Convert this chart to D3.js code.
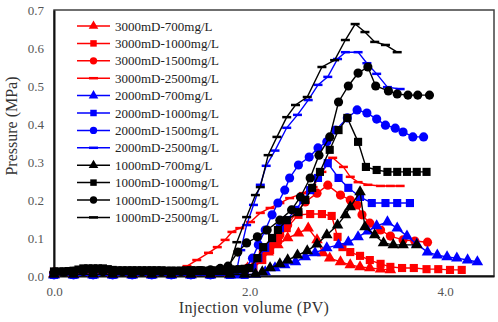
<!DOCTYPE html>
<html>
<head>
<meta charset="utf-8">
<script src="https://cdn.jsdelivr.net/npm/d3@7"></script>
<style>
  body { margin: 0; background: #fff; }
  text { font-family: "Liberation Serif", "Times New Roman", serif; }
</style>
</head>
<body>
<div id="chart"></div>
<script>
// series names (legend order)
const seriesNames = [
    "3000mD-700mg/L", "3000mD-1000mg/L", "3000mD-1500mg/L", "3000mD-2500mg/L",
    "2000mD-700mg/L", "2000mD-1000mg/L", "2000mD-1500mg/L", "2000mD-2500mg/L",
    "1000mD-700mg/L", "1000mD-1000mg/L", "1000mD-1500mg/L", "1000mD-2500mg/L"
];
const seriesColors = ["red", "red", "red", "red", "blue", "blue", "blue", "blue", "black", "black", "black", "black"];
const seriesMarkers = ["triangle", "square", "circle", "dash", "triangle", "square", "circle", "dash", "triangle", "square", "circle", "dash"];

const xTicks = [0, 2, 4];
const yTicks = [0, 0.1, 0.2, 0.3, 0.4, 0.5, 0.6, 0.7];

// [injection volume PV, pressure MPa]
const s3000_700 = [[0,.006],[.2,.006],[.4,.007],[.6,.006],[.8,.006],[1.0,.006],[1.2,.006],[1.4,.006],[1.6,.006],[1.8,.006],
    [1.9,.005],[1.98,.021],[2.09,.042],[2.19,.063],[2.29,.082],[2.39,.1],[2.5,.113],[2.6,.126],[2.69,.095],[2.75,.061],
    [2.82,.047],[2.93,.037],[3.03,.029],[3.13,.024],[3.23,.021],[3.34,.018],[3.44,.016]];
const s3000_1000 = [[0,.008],[.2,.008],[.4,.009],[.6,.008],[.8,.008],[1.0,.008],[1.2,.008],[1.4,.008],[1.6,.008],[1.8,.008],
    [1.95,.006],[2.04,.021],[2.13,.042],[2.21,.068],[2.29,.095],[2.38,.126],[2.5,.161],[2.62,.163],[2.74,.163],[2.84,.158],
    [2.9,.103],[2.95,.076],[3.03,.063],[3.13,.053],[3.23,.042],[3.34,.032],[3.44,.024],[3.56,.021],[3.68,.021],[3.81,.018],
    [3.93,.018],[4.05,.016],[4.17,.016]];
const s3000_1500 = [[0,.008],[.2,.008],[.4,.009],[.6,.008],[.8,.008],[1.0,.008],[1.2,.009],[1.4,.009],[1.6,.009],[1.8,.009],
    [1.9,.01],[1.98,.021],[2.06,.042],[2.14,.063],[2.23,.087],[2.31,.108],[2.39,.134],[2.48,.168],[2.57,.195],[2.69,.218],
    [2.8,.239],[2.93,.213],[3.03,.2],[3.1,.187],[3.15,.161],[3.23,.139],[3.34,.121],[3.44,.105],[3.57,.095],[3.69,.092],[3.82,.089]];
const s3000_2500 = [[0,.008],[.2,.008],[.4,.009],[.6,.009],[.8,.009],[1.0,.009],[1.15,.01],[1.25,.013],[1.36,.026],[1.46,.042],
    [1.58,.061],[1.67,.076],[1.75,.095],[1.82,.116],[1.9,.126],[2.01,.142],[2.11,.166],[2.21,.179],[2.31,.192],[2.41,.205],
    [2.55,.218],[2.65,.234],[2.74,.274],[2.85,.311],[2.96,.287],[3.03,.261],[3.11,.247],[3.21,.24],[3.34,.237],[3.44,.237],[3.54,.237]];

const s2000_700 = [[0,.002],[.2,.002],[.4,.002],[.6,.002],[.8,.002],[1.0,.002],[1.2,.002],[1.4,.002],[1.6,.002],[1.8,.002],
    [1.9,.002],[2.06,.005],[2.16,.011],[2.26,.021],[2.36,.029],[2.47,.037],[2.57,.05],[2.67,.061],[2.79,.074],[2.91,.082],
    [3.01,.089],[3.11,.103],[3.21,.118],[3.3,.132],[3.41,.142],[3.51,.126],[3.61,.105],[3.71,.084],[3.82,.063],[3.92,.055],
    [4.02,.05],[4.12,.047],[4.23,.042],[4.33,.037]];
const s2000_1000 = [[0,.003],[.2,.003],[.4,.003],[.6,.003],[.8,.003],[1.0,.003],[1.2,.003],[1.4,.003],[1.6,.003],[1.8,.003],
    [1.95,.003],[2.03,.021],[2.09,.047],[2.16,.074],[2.23,.1],[2.31,.126],[2.38,.147],[2.47,.174],[2.55,.2],[2.62,.226],
    [2.7,.258],[2.8,.297],[2.91,.258],[3.01,.232],[3.13,.208],[3.25,.192],[3.39,.192],[3.51,.192],[3.64,.192]];
const s2000_1500 = [[0,.003],[.2,.003],[.4,.003],[.6,.003],[.8,.003],[1.0,.003],[1.2,.003],[1.4,.003],[1.6,.003],[1.8,.004],
    [1.95,.016],[2.03,.047],[2.09,.082],[2.16,.121],[2.23,.161],[2.29,.192],[2.36,.226],[2.41,.258],[2.5,.292],[2.61,.313],
    [2.7,.337],[2.79,.353],[2.88,.384],[3.0,.416],[3.1,.437],[3.2,.429],[3.3,.413],[3.39,.397],[3.49,.389],[3.57,.379],
    [3.67,.366],[3.78,.366]];
const s2000_2500 = [[0,.004],[.2,.004],[.4,.004],[.6,.004],[.8,.004],[1.0,.004],[1.2,.004],[1.4,.004],[1.6,.004],[1.8,.004],
    [1.86,.004],[1.91,.068],[1.97,.134],[2.04,.187],[2.11,.24],[2.17,.29],[2.26,.33],[2.38,.39],[2.49,.424],[2.6,.463],
    [2.7,.503],[2.8,.524],[2.9,.571],[2.98,.589],[3.11,.589],[3.2,.56],[3.3,.532],[3.41,.497],[3.54,.492]];

const s1000_700 = [[0,.004],[.2,.004],[.4,.005],[.6,.004],[.8,.004],[1.0,.004],[1.2,.004],[1.4,.004],[1.6,.004],[1.8,.004],
    [1.95,.004],[2.06,.005],[2.13,.011],[2.21,.021],[2.31,.032],[2.39,.042],[2.49,.055],[2.59,.066],[2.69,.084],[2.79,.108],
    [2.9,.134],[2.98,.161],[3.03,.182],[3.13,.221],[3.18,.129],[3.28,.108],[3.37,.087],[3.47,.082],[3.57,.082],[3.71,.082]];
const s1000_1000 = [[0,.012],[.05,.012],[.1,.012],[.15,.013],[.2,.014],[.25,.017],[.3,.02],[.35,.02],[.4,.02],[.45,.02],[.5,.02],
    [.55,.018],[.6,.016],[.65,.015],[.7,.015],[.75,.015],[.8,.015],[.85,.015],[.9,.015],[.95,.015],[1.0,.015],[1.05,.015],
    [1.1,.015],[1.15,.014],[1.2,.014],[1.25,.014],[1.3,.014],[1.35,.015],[1.4,.015],[1.45,.015],[1.5,.015],[1.55,.014],
    [1.6,.014],[1.65,.015],[1.7,.016],[1.75,.016],[1.8,.017],[1.85,.017],[1.9,.018],[1.95,.019],
    [2.0,.021],[2.08,.047],[2.14,.076],[2.23,.1],[2.29,.121],[2.38,.147],[2.5,.168],[2.57,.2],[2.64,.232],[2.72,.274],
    [2.82,.332],[2.91,.384],[3.0,.416],[3.11,.353],[3.19,.287],[3.3,.279],[3.41,.274],[3.51,.274],[3.61,.274],[3.71,.274],[3.81,.274]];
const s1000_1500 = [[0,.01],[.1,.01],[.2,.012],[.3,.012],[.4,.012],[.5,.011],[.6,.012],[.7,.011],[.8,.012],[.9,.011],[1.0,.012],
    [1.1,.011],[1.2,.012],[1.3,.012],[1.4,.013],[1.5,.014],[1.6,.016],[1.7,.02],[1.78,.026],[1.88,.063],[1.97,.087],[2.08,.103],
    [2.18,.121],[2.31,.147],[2.43,.174],[2.52,.208],[2.62,.258],[2.71,.318],[2.82,.366],[2.91,.458],[3.01,.5],[3.11,.534],
    [3.21,.55],[3.29,.5],[3.42,.487],[3.51,.479],[3.62,.476],[3.72,.476],[3.84,.476]];
const s1000_2500 = [[0,.01],[.2,.01],[.4,.011],[.6,.011],[.8,.011],[1.0,.011],[1.2,.011],[1.4,.011],[1.6,.011],[1.78,.012],
    [1.87,.089],[1.97,.155],[2.06,.213],[2.11,.234],[2.19,.318],[2.28,.366],[2.38,.418],[2.47,.45],[2.59,.471],[2.74,.55],
    [2.87,.568],[2.98,.621],[3.08,.663],[3.18,.642],[3.28,.616],[3.39,.608],[3.51,.589]];

const seriesData = [s3000_700, s3000_1000, s3000_1500, s3000_2500,
    s2000_700, s2000_1000, s2000_1500, s2000_2500,
    s1000_700, s1000_1000, s1000_1500, s1000_2500];

const width = 498, height = 322;
const margin = { top: 10, right: 4, bottom: 46, left: 54 };

const svg = d3.select("#chart").append("svg")
    .attr("width", width)
    .attr("height", height);

const x = d3.scaleLinear().domain([0, 4.5]).range([margin.left, width - margin.right]);
const y = d3.scaleLinear().domain([0, 0.7]).range([height - margin.bottom, margin.top]);

// frame
svg.append("rect")
    .attr("x", margin.left).attr("y", margin.top)
    .attr("width", width - margin.left - margin.right)
    .attr("height", height - margin.top - margin.bottom)
    .attr("fill", "none").attr("stroke", "#404040").attr("stroke-width", 1.5);

// axes (no tick marks, just labels)
const xAxis = svg.append("g")
    .attr("transform", `translate(0,${height - margin.bottom})`)
    .call(d3.axisBottom(x).tickValues(xTicks).tickSize(0).tickPadding(11).tickFormat(d3.format(".1f")));
const yAxis = svg.append("g")
    .attr("transform", `translate(${margin.left},0)`)
    .call(d3.axisLeft(y).tickValues(yTicks).tickSize(0).tickPadding(10).tickFormat(d3.format(".1f")));
[xAxis, yAxis].forEach(g => {
    g.select(".domain").attr("stroke", "#111").attr("stroke-width", 2);
    g.selectAll("text").style("font-family", "Liberation Serif, serif").style("font-size", "13px").attr("fill", "#555");
});

function drawMarker(g, type, color, size) {
    if (type === "dash") {
        g.append("line").attr("x1", -4.5).attr("x2", 4.5).attr("y1", 0).attr("y2", 0)
            .attr("stroke", color).attr("stroke-width", 2.5);
        return;
    }
    const sym = type === "triangle" ? d3.symbolTriangle : type === "square" ? d3.symbolSquare : d3.symbolCircle;
    g.append("path").attr("d", d3.symbol().type(sym).size(size)()).attr("fill", color);
}

const line = d3.line().x(d => x(d[0])).y(d => y(d[1]));

// draw red first, black on top
seriesData.forEach((data, i) => {
    const color = seriesColors[i];
    svg.append("path")
        .datum(data)
        .attr("d", line)
        .attr("fill", "none")
        .attr("stroke", color)
        .attr("stroke-width", 1.4);
    svg.append("g").selectAll("g")
        .data(data)
        .enter().append("g")
        .attr("transform", d => `translate(${x(d[0])},${y(d[1])})`)
        .each(function() { drawMarker(d3.select(this), seriesMarkers[i], color, seriesMarkers[i] === "triangle" ? 58 : 66); });
});

// legend
const legend = svg.append("g").attr("transform", "translate(77,26)");
seriesNames.forEach((name, i) => {
    const row = legend.append("g").attr("transform", `translate(0,${i * 17.4})`);
    row.append("line").attr("x1", 0).attr("x2", 33).attr("y1", 0).attr("y2", 0)
        .attr("stroke", seriesColors[i]).attr("stroke-width", 1.5);
    const m = row.append("g").attr("transform", "translate(16.5,0)");
    drawMarker(m, seriesMarkers[i], seriesColors[i], seriesMarkers[i] === "triangle" ? 40 : 42);
    row.append("text").attr("x", 38).attr("y", 0).attr("dy", "0.35em")
        .style("font-size", "13px").attr("fill", "#222").text(name);
});

// axis titles
svg.append("text")
    .attr("x", 254).attr("y", 313)
    .style("text-anchor", "middle").style("font-size", "16px").attr("fill", "#333")
    .style("letter-spacing", "0.3px")
    .text("Injection volume (PV)");
svg.append("text")
    .attr("transform", `rotate(-90) translate(${-126},${17})`)
    .style("text-anchor", "middle").style("font-size", "16px").attr("fill", "#333")
    .text("Pressure (MPa)");
</script>
</body>
</html>
